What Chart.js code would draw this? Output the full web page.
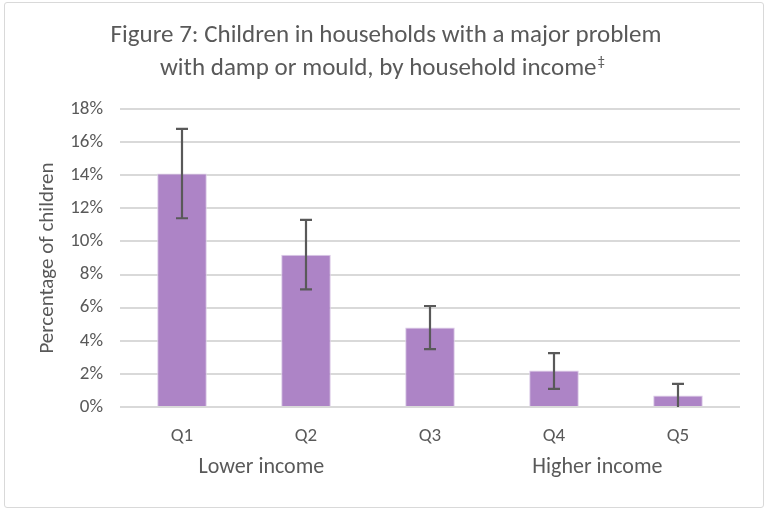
<!DOCTYPE html>
<html>
<head>
<meta charset="utf-8">
<script src="https://cdn.jsdelivr.net/npm/chart.js@4"></script>
<style>
  html, body { margin: 0; padding: 0; background: #fff; }
  #wrap {
    position: absolute; left: 4px; top: 2px; width: 760px; height: 506px;
    border: 1px solid #d9d9d9; border-radius: 3px; box-sizing: border-box;
  }
  canvas { display: block; }
</style>
</head>
<body>
<div id="wrap"><canvas id="damp"></canvas></div>
<script>
const categories = ["Q1", "Q2", "Q3", "Q4", "Q5"];
const percentChildren = [14.1, 9.2, 4.8, 2.2, 0.7];
const errLow = [11.4, 7.1, 3.5, 1.1, 0];
const errHigh = [16.8, 11.3, 6.1, 3.25, 1.4];
const yTicks = [0, 2, 4, 6, 8, 10, 12, 14, 16, 18];
const titleLines = ["Figure 7: Children in households with a major problem",
                    "with damp or mould, by household income"];
const titleMark = "\u2021";
const yTitle = "Percentage of children";
const incomeNotes = [
  { text: "Lower income", at: 0.64 },
  { text: "Higher income", at: 3.35 }
];

const FONT = "Carlito, Lato, 'Liberation Sans', sans-serif";
const GREY = "#595959";

// whiskers drawn from errLow / errHigh through the y scale
const errorBars = {
  id: "errorBars",
  afterDatasetsDraw(chart) {
    const { ctx, scales: { x, y } } = chart;
    ctx.save();
    ctx.strokeStyle = "#595959";
    ctx.lineWidth = 2.2;
    categories.forEach((c, i) => {
      const px = x.getPixelForValue(i);
      const top = y.getPixelForValue(errHigh[i]);
      const bot = y.getPixelForValue(errLow[i]);
      ctx.beginPath();
      ctx.moveTo(px, top);
      ctx.lineTo(px, bot);
      ctx.moveTo(px - 6, top);
      ctx.lineTo(px + 6, top);
      if (errLow[i] > 0) {
        ctx.moveTo(px - 6, bot);
        ctx.lineTo(px + 6, bot);
      }
      ctx.stroke();
    });
    ctx.restore();
  }
};

// title with a small raised double dagger, y title, income notes
const texts = {
  id: "texts",
  afterDraw(chart) {
    const { ctx, chartArea, scales: { x } } = chart;
    ctx.save();
    ctx.fillStyle = GREY;
    ctx.textBaseline = "middle";

    const cx = chart.width / 2 + 2;
    ctx.font = "25px " + FONT;
    ctx.textAlign = "center";
    ctx.fillText(titleLines[0], cx, 33);
    const w2 = ctx.measureText(titleLines[1]).width;
    ctx.font = "15px " + FONT;
    const wm = ctx.measureText(titleMark).width;
    const start = cx - 4 - (w2 + wm) / 2;
    ctx.textAlign = "left";
    ctx.font = "25px " + FONT;
    ctx.fillText(titleLines[1], start, 66);
    ctx.font = "15px " + FONT;
    ctx.fillText(titleMark, start + w2 + 1, 59);

    ctx.font = "21px " + FONT;
    ctx.textAlign = "center";
    ctx.save();
    ctx.translate(chartArea.left - 72, (chartArea.top + chartArea.bottom) / 2);
    ctx.rotate(-Math.PI / 2);
    ctx.fillText(yTitle, 0, 0);
    ctx.restore();

    ctx.font = "22px " + FONT;
    incomeNotes.forEach(n => {
      ctx.fillText(n.text, x.getPixelForValue(n.at), chartArea.bottom + 60);
    });
    ctx.restore();
  }
};

new Chart(document.getElementById("damp"), {
  type: "bar",
  data: {
    labels: categories,
    datasets: [{
      label: yTitle,
      data: percentChildren,
      backgroundColor: "#ad84c6",
      borderColor: "#dccbe8",
      borderWidth: 1,
      categoryPercentage: 1,
      barPercentage: 0.4
    }]
  },
  options: {
    responsive: true,
    maintainAspectRatio: false,
    animation: false,
    layout: { padding: { left: 0, right: 23, top: 106, bottom: 0 } },
    plugins: {
      legend: { display: false },
      tooltip: { enabled: false },
      title: { display: false }
    },
    scales: {
      x: {
        afterFit(scale) { scale.height = 100; },
        grid: { display: false, drawTicks: false },
        border: { display: false },
        ticks: { color: GREY, font: { family: FONT, size: 19 }, padding: 18 }
      },
      y: {
        min: 0,
        max: 18,
        afterFit(scale) { scale.width = 115; },
        afterBuildTicks(scale) {
          scale.ticks = yTicks.map(v => ({ value: v }));
        },
        grid: { color: "#d9d9d9", lineWidth: 2, drawTicks: false },
        border: { display: false },
        ticks: {
          color: GREY,
          font: { family: FONT, size: 19 },
          padding: 17,
          callback: v => v + "%"
        }
      }
    }
  },
  plugins: [errorBars, texts]
});
</script>
</body>
</html>
